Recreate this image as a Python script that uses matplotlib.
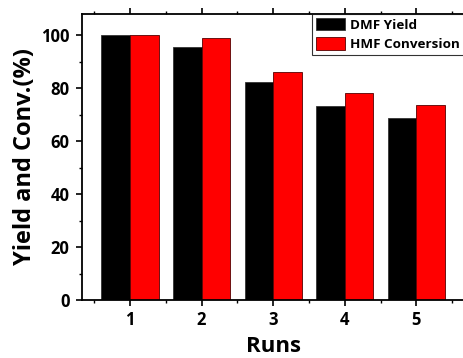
import numpy as np
import matplotlib
matplotlib.use("Agg")
from matplotlib import pyplot as plt
from matplotlib.ticker import MultipleLocator

# data
runs = [1, 2, 3, 4, 5]
dmf_yield = [100.0, 95.7, 82.3, 73.4, 68.6]
hmf_conversion = [100.0, 99.1, 85.9, 78.3, 73.6]

plt.rcParams['font.family'] = ['Open Sans', 'DejaVu Sans']
plt.rcParams['font.weight'] = 'bold'

fig = plt.figure(figsize=(4.63, 3.58), dpi=100)
ax = fig.add_axes([0.177, 0.162, 0.826, 0.799])

x = np.array(runs)
w = 0.4
ax.bar(x - w / 2, dmf_yield, w, color='black', edgecolor='#333333', linewidth=0.6, label='DMF Yield')
ax.bar(x + w / 2, hmf_conversion, w, color='#ff0000', edgecolor='#550000', linewidth=0.6, label='HMF Conversion')

ax.set_xlim(0.33, 5.67)
ax.set_ylim(0, 108)
ax.set_xticks(runs)
ax.xaxis.set_minor_locator(MultipleLocator(0.5))
ax.yaxis.set_major_locator(MultipleLocator(20))
ax.yaxis.set_minor_locator(MultipleLocator(10))
ax.tick_params(which='major', direction='out', length=4, width=1.2, labelsize=12, pad=5)
ax.tick_params(axis='x', which='major', pad=4)
ax.tick_params(which='minor', direction='out', length=2.5, width=1.0)
ax.tick_params(axis='x', which='both', top=True)
ax.tick_params(axis='x', which='both', labeltop=False)
for lab in ax.get_xticklabels() + ax.get_yticklabels():
    lab.set_fontweight('bold')
for s in ax.spines.values():
    s.set_linewidth(1.3)

ax.set_xlabel('Runs', fontsize=16, fontweight='bold', labelpad=5)
ax.set_ylabel('Yield and Conv.(%)', fontsize=17, fontweight='bold', labelpad=3)

leg = ax.legend(loc='upper right', bbox_to_anchor=(1.0, 1.0), fontsize=9.7, frameon=True,
                fancybox=False, edgecolor='black', borderpad=0.3, handlelength=2.15,
                handleheight=1.05, handletextpad=0.4, labelspacing=0.4, borderaxespad=0.0)
leg.get_frame().set_linewidth(0.8)
for t in leg.get_texts():
    t.set_fontweight('bold')

fig.savefig('out.png', dpi=100)
